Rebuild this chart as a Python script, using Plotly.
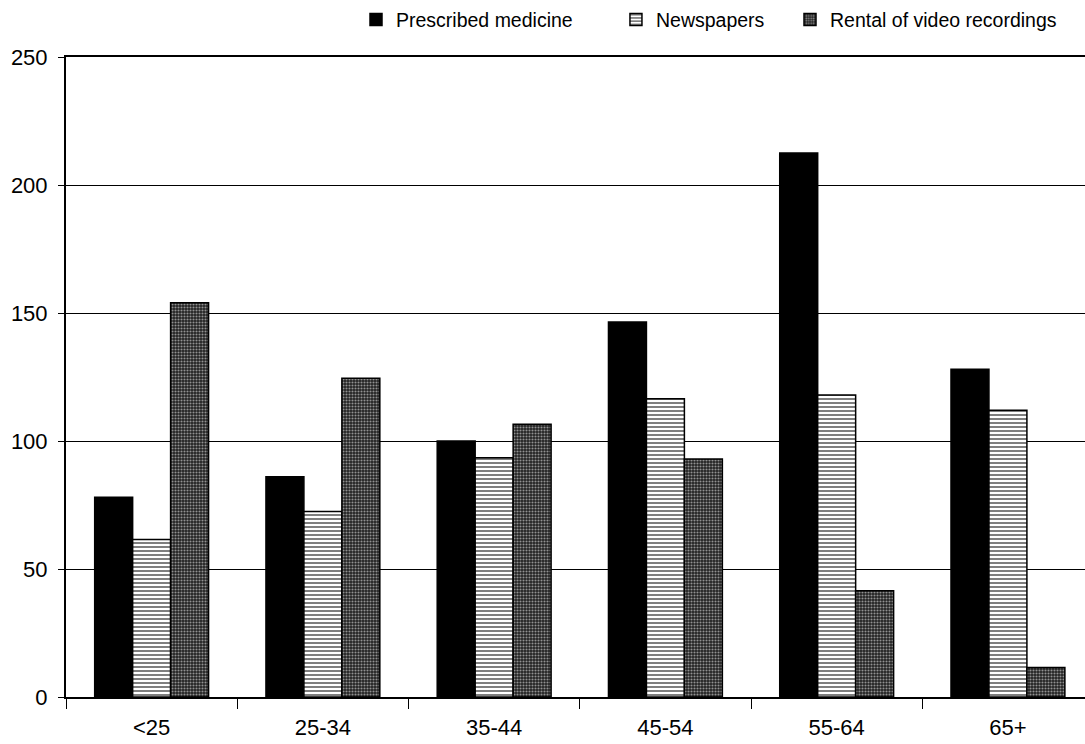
import plotly.graph_objects as go

categories = ["<25", "25-34", "35-44", "45-54", "55-64", "65+"]
medicine = [78, 86, 100, 146.5, 212.5, 128]
newspapers = [61.5, 72.5, 93.5, 116.5, 118, 112]
video = [154, 124.5, 106.5, 93, 41.5, 11.5]
y_ticks = [0, 50, 100, 150, 200, 250]

FONT = "Liberation Sans, Arial, sans-serif"

fig = go.Figure()
fig.add_trace(go.Bar(
    x=categories, y=medicine, name="Prescribed medicine",
    marker=dict(color="black", line=dict(color="black", width=1.5)),
    legend="legend",
))
fig.add_trace(go.Bar(
    x=categories, y=newspapers, name="Newspapers",
    marker=dict(color="white", line=dict(color="black", width=1.5),
                pattern=dict(shape="-", fgcolor="black", bgcolor="white",
                             size=4, solidity=0.5)),
    legend="legend2",
))
fig.add_trace(go.Bar(
    x=categories, y=video, name="Rental of video recordings",
    marker=dict(color="#222222", line=dict(color="black", width=1.5),
                pattern=dict(shape=".", fgcolor="white", bgcolor="#222222",
                             size=3, solidity=0.4)),
    legend="legend3",
))

legend_common = dict(orientation="h", yanchor="middle", y=1.058, xanchor="left",
                     font=dict(family=FONT, size=19.5, color="black"),
                     bgcolor="rgba(0,0,0,0)", itemwidth=30, tracegroupgap=0,
                     visible=True)

fig.update_layout(
    width=1085, height=744,
    margin=dict(l=66, r=0, t=57, b=47),
    showlegend=True,
    paper_bgcolor="white", plot_bgcolor="white",
    barmode="group", bargap=0.335, bargroupgap=0,
    font=dict(family=FONT, size=22, color="black"),
    legend=dict(x=0.2846, **legend_common),
    legend2=dict(x=0.5397, **legend_common),
    legend3=dict(x=0.7105, **legend_common),
    xaxis=dict(
        range=[-0.5, 5.45], type="category",
        showline=True, linecolor="black", linewidth=1.5, mirror=True,
        ticks="outside", tickson="boundaries", ticklen=10, tickcolor="black",
        tickwidth=1, ticklabelstandoff=10, showgrid=False,
        tickfont=dict(family=FONT, size=22, color="black"),
    ),
    yaxis=dict(
        range=[0, 250], tickvals=y_ticks, ticktext=[str(v) for v in y_ticks],
        showline=True, linecolor="black", linewidth=2,
        showgrid=True, gridcolor="black", gridwidth=1,
        ticks="outside", ticklen=6, tickcolor="black", ticklabelstandoff=6,
        tickfont=dict(family=FONT, size=22, color="black"), zeroline=False,
    ),
)

fig.write_html(
    "out.html",
    config={"displayModeBar": False},
    post_script="document.body.style.margin='0';document.body.style.overflow='hidden';",
)
